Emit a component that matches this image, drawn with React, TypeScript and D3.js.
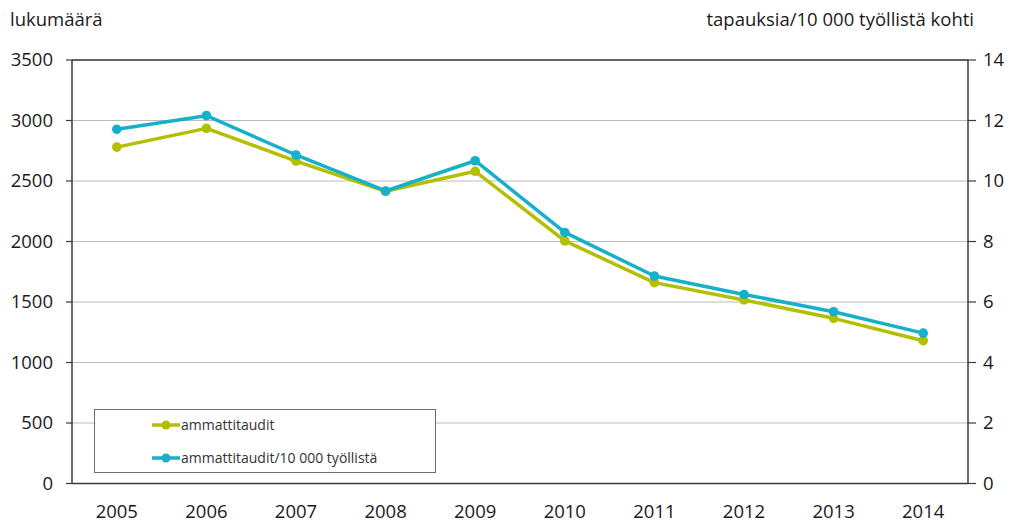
import React from "react";
import * as d3 from "d3";

const years = ["2005", "2006", "2007", "2008", "2009", "2010", "2011", "2012", "2013", "2014"];
const cases = [2780, 2935, 2665, 2415, 2580, 2005, 1660, 1517, 1365, 1180];
const perWorkers = [11.71, 12.16, 10.86, 9.67, 10.67, 8.3, 6.86, 6.25, 5.68, 4.97];
const leftTicks = [0, 500, 1000, 1500, 2000, 2500, 3000, 3500];
const rightTicks = [0, 2, 4, 6, 8, 10, 12, 14];
const seriesNames = ["ammattitaudit", "ammattitaudit/10 000 työllistä"];

const W = 1013;
const H = 524;
const plot = { left: 72, right: 968, top: 60, bottom: 483.5 };
const GREEN = "#b3bf00";
const BLUE = "#17b0c9";
const FONT = "'Open Sans', 'Noto Sans', sans-serif";

export default function App() {
  const x = d3.scalePoint<string>().domain(years).range([plot.left, plot.right]).padding(0.5);
  const yL = d3.scaleLinear().domain([0, 3500]).range([plot.bottom, plot.top]);
  const yR = d3.scaleLinear().domain([0, 14]).range([plot.bottom, plot.top]);

  const lineL = d3.line<number>().x((_, i) => x(years[i])!).y((d) => yL(d));
  const lineR = d3.line<number>().x((_, i) => x(years[i])!).y((d) => yR(d));

  return (
    <svg
      width={W}
      height={H}
      style={{ position: "absolute", left: 0, top: 0, background: "#fff" }}
      fontFamily={FONT}
    >
      {/* gridlines */}
      {leftTicks.map((t) => (
        <line key={"g" + t} x1={plot.left} x2={plot.right} y1={yL(t)} y2={yL(t)} stroke="#bcbcbc" strokeWidth={1.2} />
      ))}
      {/* frame */}
      <line x1={plot.left} x2={plot.right} y1={plot.top} y2={plot.top} stroke="#3a3a3a" strokeWidth={1.5} />
      <line x1={plot.left} x2={plot.left} y1={plot.top} y2={plot.bottom} stroke="#3a3a3a" strokeWidth={1.5} />
      <line x1={plot.right} x2={plot.right} y1={plot.top} y2={plot.bottom} stroke="#3a3a3a" strokeWidth={1.5} />
      <line x1={plot.left} x2={plot.right} y1={plot.bottom} y2={plot.bottom} stroke="#3a3a3a" strokeWidth={1.5} />

      {/* left axis */}
      {leftTicks.map((t) => (
        <g key={"l" + t}>
          <line x1={plot.left - 6} x2={plot.left} y1={yL(t)} y2={yL(t)} stroke="#3a3a3a" strokeWidth={1.2} />
          <text x={53} y={yL(t)} dy="0.35em" textAnchor="end" fontSize={18.5} fill="#1a1a1a">
            {t}
          </text>
        </g>
      ))}
      {/* right axis */}
      {rightTicks.map((t) => (
        <g key={"r" + t}>
          <line x1={plot.right} x2={plot.right + 8} y1={yR(t)} y2={yR(t)} stroke="#3a3a3a" strokeWidth={1.2} />
          <text x={983} y={yR(t)} dy="0.35em" textAnchor="start" fontSize={18.5} fill="#1a1a1a">
            {t}
          </text>
        </g>
      ))}
      {/* x axis labels */}
      {years.map((yr) => (
        <text key={yr} x={x(yr)} y={518} textAnchor="middle" fontSize={18.5} fill="#1a1a1a">
          {yr}
        </text>
      ))}

      {/* axis titles */}
      <text x={10} y={26} fontSize={18.5} fill="#1a1a1a">lukumäärä</text>
      <text x={974} y={26} textAnchor="end" fontSize={18.5} fill="#1a1a1a">tapauksia/10 000 työllistä kohti</text>

      {/* series */}
      <path d={lineL(cases)!} fill="none" stroke={GREEN} strokeWidth={3.5} strokeLinejoin="round" />
      {cases.map((v, i) => (
        <circle key={"c" + i} cx={x(years[i])} cy={yL(v)} r={4.8} fill={GREEN} />
      ))}
      <path d={lineR(perWorkers)!} fill="none" stroke={BLUE} strokeWidth={3.5} strokeLinejoin="round" />
      {perWorkers.map((v, i) => (
        <circle key={"p" + i} cx={x(years[i])} cy={yR(v)} r={4.8} fill={BLUE} />
      ))}

      {/* legend */}
      <rect x={94.5} y={409.5} width={341} height={63} fill="#fff" stroke="#6e6e6e" strokeWidth={1} />
      {[GREEN, BLUE].map((c, i) => {
        const ly = 425 + i * 33;
        return (
          <g key={"lg" + i}>
            <line x1={152} x2={180} y1={ly} y2={ly} stroke={c} strokeWidth={3.5} />
            <circle cx={166} cy={ly} r={4.5} fill={c} />
            <text x={181} y={ly} dy="0.35em" fontSize={14} fill="#333">
              {seriesNames[i]}
            </text>
          </g>
        );
      })}
    </svg>
  );
}
